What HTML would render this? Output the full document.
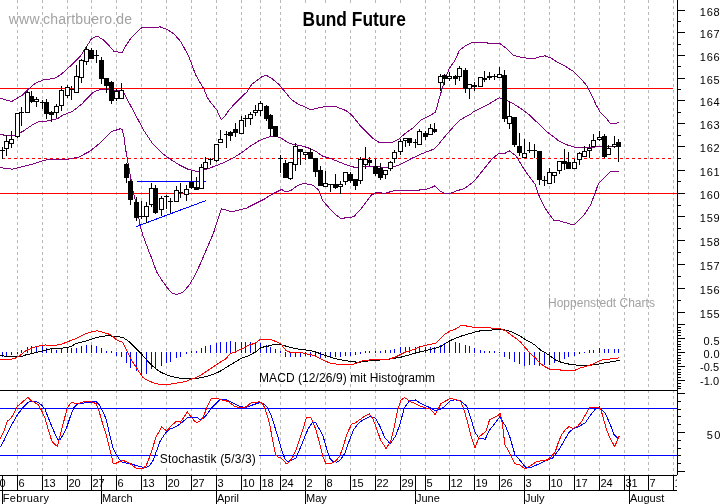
<!DOCTYPE html>
<html><head><meta charset="utf-8"><title>Bund Future</title>
<style>
html,body{margin:0;padding:0;background:#fff;}
body{width:723px;height:504px;overflow:hidden;}
svg{display:block;}
text{font-family:"Liberation Sans",Arial,sans-serif;}
.ax{font-size:11px;fill:#000;}
.lbl{font-size:12px;fill:#000;}
.title{font-size:19.3px;font-weight:bold;fill:#000;}
.wm{font-size:14px;fill:#a2a2a2;}
.hp{font-size:12px;fill:#a2a2a2;}
line,rect,polyline{shape-rendering:crispEdges;}
</style></head>
<body>
<svg width="723" height="504" viewBox="0 0 723 504">
<defs><clipPath id="axclip"><rect x="0" y="475" width="677" height="29"/></clipPath></defs>
<rect x="0" y="0" width="723" height="504" fill="#fff"/>
<line x1="17.5" y1="0" x2="17.5" y2="475" stroke="#b8b8b8" stroke-dasharray="3 3"/>
<line x1="42.5" y1="0" x2="42.5" y2="475" stroke="#b8b8b8" stroke-dasharray="3 3"/>
<line x1="67.5" y1="0" x2="67.5" y2="475" stroke="#b8b8b8" stroke-dasharray="3 3"/>
<line x1="91.5" y1="0" x2="91.5" y2="475" stroke="#b8b8b8" stroke-dasharray="3 3"/>
<line x1="116.5" y1="0" x2="116.5" y2="475" stroke="#b8b8b8" stroke-dasharray="3 3"/>
<line x1="141.5" y1="0" x2="141.5" y2="475" stroke="#b8b8b8" stroke-dasharray="3 3"/>
<line x1="166.5" y1="0" x2="166.5" y2="475" stroke="#b8b8b8" stroke-dasharray="3 3"/>
<line x1="191.5" y1="0" x2="191.5" y2="475" stroke="#b8b8b8" stroke-dasharray="3 3"/>
<line x1="216.5" y1="0" x2="216.5" y2="475" stroke="#b8b8b8" stroke-dasharray="3 3"/>
<line x1="241.5" y1="0" x2="241.5" y2="475" stroke="#b8b8b8" stroke-dasharray="3 3"/>
<line x1="260.5" y1="0" x2="260.5" y2="475" stroke="#b8b8b8" stroke-dasharray="3 3"/>
<line x1="280.5" y1="0" x2="280.5" y2="475" stroke="#b8b8b8" stroke-dasharray="3 3"/>
<line x1="305.5" y1="0" x2="305.5" y2="475" stroke="#b8b8b8" stroke-dasharray="3 3"/>
<line x1="325.5" y1="0" x2="325.5" y2="475" stroke="#b8b8b8" stroke-dasharray="3 3"/>
<line x1="350.5" y1="0" x2="350.5" y2="475" stroke="#b8b8b8" stroke-dasharray="3 3"/>
<line x1="375.5" y1="0" x2="375.5" y2="475" stroke="#b8b8b8" stroke-dasharray="3 3"/>
<line x1="400.5" y1="0" x2="400.5" y2="475" stroke="#b8b8b8" stroke-dasharray="3 3"/>
<line x1="425.5" y1="0" x2="425.5" y2="475" stroke="#b8b8b8" stroke-dasharray="3 3"/>
<line x1="449.5" y1="0" x2="449.5" y2="475" stroke="#b8b8b8" stroke-dasharray="3 3"/>
<line x1="474.5" y1="0" x2="474.5" y2="475" stroke="#b8b8b8" stroke-dasharray="3 3"/>
<line x1="499.5" y1="0" x2="499.5" y2="475" stroke="#b8b8b8" stroke-dasharray="3 3"/>
<line x1="524.5" y1="0" x2="524.5" y2="475" stroke="#b8b8b8" stroke-dasharray="3 3"/>
<line x1="549.5" y1="0" x2="549.5" y2="475" stroke="#b8b8b8" stroke-dasharray="3 3"/>
<line x1="574.5" y1="0" x2="574.5" y2="475" stroke="#b8b8b8" stroke-dasharray="3 3"/>
<line x1="599.5" y1="0" x2="599.5" y2="475" stroke="#b8b8b8" stroke-dasharray="3 3"/>
<line x1="624.5" y1="0" x2="624.5" y2="475" stroke="#b8b8b8" stroke-dasharray="3 3"/>
<line x1="648.5" y1="0" x2="648.5" y2="475" stroke="#b8b8b8" stroke-dasharray="3 3"/>
<line x1="673.5" y1="0" x2="673.5" y2="475" stroke="#b8b8b8" stroke-dasharray="3 3"/>
<line x1="0" y1="88.5" x2="673" y2="88.5" stroke="#ff0000"/>
<line x1="0" y1="193.5" x2="677" y2="193.5" stroke="#ff0000"/>
<line x1="2" y1="158.5" x2="673" y2="158.5" stroke="#ff0000" stroke-dasharray="3 3"/>
<polyline points="-1.5,98.3 0.5,98.3 11.6,101.6 22.7,94.9 29.4,88.3 36.1,82.7 44.9,79.4 53.8,78.7 60.5,74.9 71.6,64.9 80.5,56.1 86.1,47.2 91.6,38.7 97.2,36.1 102.7,39.4 109.4,46.1 113.8,51.2 122.3,52.7 124.9,47.2 131.6,37.2 138.3,30.5 142.7,27.2 160.5,27.0 167.2,29.4 173.8,33.8 180.5,41.3 183.8,47.2 188.8,56.3 192.2,65.5 195.5,74.7 198.8,80.5 202.2,86.3 203.8,88.8 207.2,97.2 210.5,102.2 213.8,106.3 217.2,110.5 218.8,114.7 221.3,119.7 224.7,116.3 228.8,110.5 233.8,104.7 240.5,98.0 247.2,91.6 251.6,84.5 258.3,79.4 262.7,76.1 267.2,75.8 271.6,78.3 278.3,83.8 284.9,91.6 290.5,98.8 297.4,103.7 305.8,107.4 311.3,109.9 316.9,108.3 323.8,106.9 336.5,106.9 346.1,110.6 351.5,114.8 359.9,125.2 368.3,133.6 373.8,139.1 379.4,142.6 390.5,143.0 391.6,142.7 398.3,139.4 400.5,137.3 407.4,131.8 414.4,126.9 421.3,119.9 428.3,116.5 435.2,112.3 436.6,108.8 438.7,100.5 441.6,90.5 444.9,79.4 449.4,68.3 454.9,60.5 459.4,50.5 464.9,46.1 471.6,42.7 478.3,42.1 489.4,43.2 499.4,43.2 504.9,47.2 513.8,55.6 523.8,57.8 533.8,58.7 540.5,56.5 544.9,55.8 550.5,57.8 558.3,62.7 564.9,66.1 573.8,71.6 580.5,78.3 587.2,86.1 591.6,94.9 596.1,104.9 600.5,112.7 607.2,119.4 610.5,123.8 616.1,123.2 619.4,122.7" fill="none" stroke="#800080" />
<polyline points="-1.5,134.0 0.5,134.0 3.5,135.0 15.5,135.0 19.1,133.2 23.5,131.0 27.9,127.9 33.1,124.4 37.0,122.3 41.8,121.0 47.0,121.0 52.2,119.9 57.4,118.8 62.7,115.3 66.5,113.7 71.7,111.8 76.1,108.6 82.2,103.6 87.4,98.0 92.7,92.7 97.0,90.3 100.5,89.7 105.0,89.2 108.5,89.7 112.7,90.3 117.1,90.8 121.5,90.8 124.1,93.6 133.8,111.6 143.8,130.5 152.7,143.8 161.6,152.7 170.5,159.4 179.4,164.9 188.3,169.4 197.2,171.6 206.1,169.4 214.9,166.1 223.8,162.7 232.7,158.3 241.6,152.7 250.5,146.1 259.4,140.5 268.3,137.2 274.9,136.1 281.6,138.3 287.2,142.3 293.8,144.5 302.7,146.1 309.4,148.3 316.1,151.6 322.7,156.1 331.6,158.9 344.9,164.3 356.1,167.8 367.2,166.1 378.3,166.5 389.4,168.3 400.5,164.4 410.9,158.8 421.3,154.0 433.8,149.1 438.7,144.3 443.6,138.0 448.5,132.4 453.3,126.9 460.2,119.9 467.2,115.8 470.5,114.4 473.8,111.6 487.2,104.9 499.4,97.8 502.7,98.7 511.6,102.7 520.5,108.3 529.4,114.9 538.3,123.5 547.2,132.0 558.3,140.5 567.2,144.9 576.1,147.6 587.2,147.8 596.1,146.9 609.4,146.7 619.4,146.3" fill="none" stroke="#800080" />
<polyline points="-1.5,167.8 0.5,167.8 10.5,168.5 11.6,169.7 14.5,168.5 22.7,166.7 33.8,163.8 44.9,160.1 56.1,159.4 67.2,159.4 78.3,157.2 89.4,151.6 100.5,142.7 111.6,131.6 120.5,128.7 122.0,129.5 123.7,134.8 125.6,149.1 127.3,158.6 129.2,169.3 131.1,180.0 133.0,191.0 134.9,199.0 137.4,209.2 138.7,216.8 139.9,224.4 141.2,229.5 143.1,235.9 145.0,240.9 146.9,246.0 148.8,251.1 151.4,257.5 156.6,271.8 161.7,280.0 166.9,287.2 171.6,293.0 177.2,294.5 182.4,292.4 188.5,286.2 194.7,275.9 200.9,262.5 207.1,248.0 213.3,233.6 217.4,221.2 221.5,208.9 223.6,209.3 231.8,212.0 237.2,210.5 246.1,208.3 254.9,203.8 263.8,199.4 272.7,193.8 281.6,189.5 285.5,191.8 290.5,190.7 297.5,185.7 302.5,183.8 308.5,184.1 313.5,185.5 318.5,190.0 322.7,200.5 329.4,208.3 336.1,214.9 340.5,218.3 347.2,217.8 353.8,216.7 360.5,209.4 367.2,200.5 371.6,194.9 376.1,192.7 384.9,193.2 393.8,190.9 400.5,190.1 411.6,190.5 422.7,189.8 429.4,188.5 434.9,185.8 439.4,190.5 443.8,193.2 449.4,193.8 456.1,191.1 464.9,188.3 473.8,181.6 482.7,170.5 491.6,159.4 498.3,153.8 505.5,153.0 509.4,150.9 516.1,156.0 524.9,170.5 530.5,178.3 534.9,183.8 538.3,193.8 542.7,203.8 547.2,211.6 553.8,220.1 560.5,221.1 567.2,223.2 573.8,224.9 578.3,220.9 584.9,213.8 590.5,204.9 594.9,193.8 598.3,183.8 604.9,177.2 610.5,171.8 614.9,171.2 619.4,171.6" fill="none" stroke="#800080" />
<line x1="137" y1="181.5" x2="206" y2="181.5" stroke="#0000ff"/>
<line x1="136.5" y1="226.5" x2="206" y2="200.5" stroke="#0000ff"/>
<rect x="2" y="147" width="1" height="12" fill="#000"/>
<rect x="0" y="150" width="5" height="1" fill="#000"/>
<rect x="6" y="135" width="1" height="21" fill="#000"/>
<rect x="4.5" y="141.5" width="4" height="7" fill="#fff" stroke="#000"/>
<rect x="11" y="131" width="1" height="17" fill="#000"/>
<rect x="9.5" y="139.5" width="4" height="4" fill="#fff" stroke="#000"/>
<rect x="17" y="113" width="1" height="25" fill="#000"/>
<rect x="15.5" y="113.5" width="4" height="23" fill="#fff" stroke="#000"/>
<rect x="21" y="107" width="1" height="19" fill="#000"/>
<rect x="19" y="112" width="5" height="1" fill="#000"/>
<rect x="27" y="91" width="1" height="22" fill="#000"/>
<rect x="25.5" y="92.5" width="4" height="20" fill="#fff" stroke="#000"/>
<rect x="31" y="91" width="1" height="12" fill="#000"/>
<rect x="29" y="96" width="5" height="6" fill="#000"/>
<rect x="36" y="97" width="1" height="10" fill="#000"/>
<rect x="34.5" y="99.5" width="4" height="2" fill="#fff" stroke="#000"/>
<rect x="42" y="100" width="1" height="9" fill="#000"/>
<rect x="40" y="102" width="5" height="1" fill="#000"/>
<rect x="46" y="99" width="1" height="20" fill="#000"/>
<rect x="44" y="102" width="5" height="12" fill="#000"/>
<rect x="51" y="111" width="1" height="11" fill="#000"/>
<rect x="49" y="112" width="5" height="3" fill="#000"/>
<rect x="56" y="104" width="1" height="14" fill="#000"/>
<rect x="54.5" y="106.5" width="4" height="6" fill="#fff" stroke="#000"/>
<rect x="61" y="86" width="1" height="25" fill="#000"/>
<rect x="59.5" y="90.5" width="4" height="15" fill="#fff" stroke="#000"/>
<rect x="67" y="85" width="1" height="13" fill="#000"/>
<rect x="65.5" y="87.5" width="4" height="8" fill="#fff" stroke="#000"/>
<rect x="71" y="86" width="1" height="14" fill="#000"/>
<rect x="69" y="89" width="5" height="1" fill="#000"/>
<rect x="76" y="65" width="1" height="28" fill="#000"/>
<rect x="74.5" y="76.5" width="4" height="16" fill="#fff" stroke="#000"/>
<rect x="81" y="59" width="1" height="24" fill="#000"/>
<rect x="79.5" y="60.5" width="4" height="17" fill="#fff" stroke="#000"/>
<rect x="86" y="46" width="1" height="19" fill="#000"/>
<rect x="84.5" y="49.5" width="4" height="12" fill="#fff" stroke="#000"/>
<rect x="91" y="48" width="1" height="11" fill="#000"/>
<rect x="89" y="50" width="5" height="9" fill="#000"/>
<rect x="96" y="50" width="1" height="13" fill="#000"/>
<rect x="94" y="55" width="5" height="1" fill="#000"/>
<rect x="101" y="57" width="1" height="27" fill="#000"/>
<rect x="99" y="60" width="5" height="19" fill="#000"/>
<rect x="106" y="78" width="1" height="15" fill="#000"/>
<rect x="104" y="78" width="5" height="8" fill="#000"/>
<rect x="111" y="81" width="1" height="23" fill="#000"/>
<rect x="109" y="82" width="5" height="19" fill="#000"/>
<rect x="116" y="89" width="1" height="12" fill="#000"/>
<rect x="114.5" y="91.5" width="4" height="7" fill="#fff" stroke="#000"/>
<rect x="121" y="83" width="1" height="16" fill="#000"/>
<rect x="119.5" y="90.5" width="4" height="8" fill="#fff" stroke="#000"/>
<rect x="126" y="163" width="1" height="20" fill="#000"/>
<rect x="124" y="164" width="5" height="14" fill="#000"/>
<rect x="130" y="180" width="1" height="25" fill="#000"/>
<rect x="128" y="181" width="5" height="19" fill="#000"/>
<rect x="136" y="197" width="1" height="24" fill="#000"/>
<rect x="134" y="202" width="5" height="16" fill="#000"/>
<rect x="141" y="201" width="1" height="18" fill="#000"/>
<rect x="139" y="216" width="5" height="1" fill="#000"/>
<rect x="146" y="202" width="1" height="21" fill="#000"/>
<rect x="144.5" y="206.5" width="4" height="10" fill="#fff" stroke="#000"/>
<rect x="151" y="183" width="1" height="24" fill="#000"/>
<rect x="149.5" y="188.5" width="4" height="16" fill="#fff" stroke="#000"/>
<rect x="155" y="185" width="1" height="29" fill="#000"/>
<rect x="153" y="188" width="5" height="25" fill="#000"/>
<rect x="161" y="196" width="1" height="20" fill="#000"/>
<rect x="159.5" y="198.5" width="4" height="11" fill="#fff" stroke="#000"/>
<rect x="166" y="195" width="1" height="14" fill="#000"/>
<rect x="164" y="196" width="5" height="1" fill="#000"/>
<rect x="170" y="198" width="1" height="15" fill="#000"/>
<rect x="168" y="201" width="5" height="1" fill="#000"/>
<rect x="176" y="186" width="1" height="16" fill="#000"/>
<rect x="174.5" y="190.5" width="4" height="11" fill="#fff" stroke="#000"/>
<rect x="180" y="183" width="1" height="15" fill="#000"/>
<rect x="178" y="192" width="5" height="1" fill="#000"/>
<rect x="186" y="185" width="1" height="16" fill="#000"/>
<rect x="184.5" y="189.5" width="4" height="5" fill="#fff" stroke="#000"/>
<rect x="191" y="171" width="1" height="18" fill="#000"/>
<rect x="189" y="182" width="5" height="6" fill="#000"/>
<rect x="196" y="177" width="1" height="13" fill="#000"/>
<rect x="194" y="187" width="5" height="3" fill="#000"/>
<rect x="201" y="164" width="1" height="25" fill="#000"/>
<rect x="199.5" y="167.5" width="4" height="21" fill="#fff" stroke="#000"/>
<rect x="205" y="157" width="1" height="12" fill="#000"/>
<rect x="203.5" y="162.5" width="4" height="6" fill="#fff" stroke="#000"/>
<rect x="210" y="158" width="1" height="7" fill="#000"/>
<rect x="208" y="159" width="5" height="1" fill="#000"/>
<rect x="216" y="144" width="1" height="18" fill="#000"/>
<rect x="214.5" y="144.5" width="4" height="16" fill="#fff" stroke="#000"/>
<rect x="220" y="130" width="1" height="13" fill="#000"/>
<rect x="218.5" y="139.5" width="4" height="3" fill="#fff" stroke="#000"/>
<rect x="226" y="131" width="1" height="17" fill="#000"/>
<rect x="224" y="134" width="5" height="1" fill="#000"/>
<rect x="230" y="131" width="1" height="10" fill="#000"/>
<rect x="228" y="132" width="5" height="4" fill="#000"/>
<rect x="235" y="123" width="1" height="14" fill="#000"/>
<rect x="233" y="129" width="5" height="4" fill="#000"/>
<rect x="241" y="116" width="1" height="18" fill="#000"/>
<rect x="239.5" y="120.5" width="4" height="13" fill="#fff" stroke="#000"/>
<rect x="245" y="115" width="1" height="12" fill="#000"/>
<rect x="243" y="118" width="5" height="1" fill="#000"/>
<rect x="250" y="112" width="1" height="13" fill="#000"/>
<rect x="248.5" y="114.5" width="4" height="4" fill="#fff" stroke="#000"/>
<rect x="255" y="105" width="1" height="11" fill="#000"/>
<rect x="253.5" y="110.5" width="4" height="2" fill="#fff" stroke="#000"/>
<rect x="260" y="101" width="1" height="15" fill="#000"/>
<rect x="258.5" y="103.5" width="4" height="7" fill="#fff" stroke="#000"/>
<rect x="266" y="105" width="1" height="16" fill="#000"/>
<rect x="264" y="106" width="5" height="13" fill="#000"/>
<rect x="270" y="114" width="1" height="22" fill="#000"/>
<rect x="268" y="115" width="5" height="14" fill="#000"/>
<rect x="275" y="126" width="1" height="11" fill="#000"/>
<rect x="273" y="126" width="5" height="11" fill="#000"/>
<rect x="280" y="155" width="1" height="18" fill="#000"/>
<rect x="278" y="158" width="5" height="1" fill="#000"/>
<rect x="285" y="160" width="1" height="18" fill="#000"/>
<rect x="283" y="163" width="5" height="15" fill="#000"/>
<rect x="290" y="162" width="1" height="18" fill="#000"/>
<rect x="288.5" y="162.5" width="4" height="16" fill="#fff" stroke="#000"/>
<rect x="295" y="143" width="1" height="28" fill="#000"/>
<rect x="293.5" y="146.5" width="4" height="18" fill="#fff" stroke="#000"/>
<rect x="300" y="149" width="1" height="16" fill="#000"/>
<rect x="298" y="149" width="5" height="3" fill="#000"/>
<rect x="305" y="152" width="1" height="8" fill="#000"/>
<rect x="303.5" y="152.5" width="4" height="2" fill="#fff" stroke="#000"/>
<rect x="310" y="148" width="1" height="11" fill="#000"/>
<rect x="308" y="152" width="5" height="7" fill="#000"/>
<rect x="315" y="158" width="1" height="19" fill="#000"/>
<rect x="313" y="158" width="5" height="14" fill="#000"/>
<rect x="320" y="166" width="1" height="20" fill="#000"/>
<rect x="318" y="170" width="5" height="16" fill="#000"/>
<rect x="325" y="171" width="1" height="16" fill="#000"/>
<rect x="323.5" y="183.5" width="4" height="3" fill="#fff" stroke="#000"/>
<rect x="330" y="184" width="1" height="8" fill="#000"/>
<rect x="328" y="184" width="5" height="1" fill="#000"/>
<rect x="335" y="174" width="1" height="15" fill="#000"/>
<rect x="333" y="184" width="5" height="4" fill="#000"/>
<rect x="340" y="181" width="1" height="13" fill="#000"/>
<rect x="338.5" y="184.5" width="4" height="2" fill="#fff" stroke="#000"/>
<rect x="345" y="172" width="1" height="13" fill="#000"/>
<rect x="343.5" y="172.5" width="4" height="9" fill="#fff" stroke="#000"/>
<rect x="350" y="172" width="1" height="11" fill="#000"/>
<rect x="348" y="174" width="5" height="7" fill="#000"/>
<rect x="355" y="179" width="1" height="11" fill="#000"/>
<rect x="353" y="179" width="5" height="7" fill="#000"/>
<rect x="360" y="157" width="1" height="27" fill="#000"/>
<rect x="358.5" y="159.5" width="4" height="21" fill="#fff" stroke="#000"/>
<rect x="365" y="147" width="1" height="22" fill="#000"/>
<rect x="363.5" y="159.5" width="4" height="5" fill="#fff" stroke="#000"/>
<rect x="369" y="157" width="1" height="9" fill="#000"/>
<rect x="367" y="160" width="5" height="3" fill="#000"/>
<rect x="375" y="159" width="1" height="17" fill="#000"/>
<rect x="373" y="166" width="5" height="8" fill="#000"/>
<rect x="380" y="163" width="1" height="17" fill="#000"/>
<rect x="378" y="168" width="5" height="10" fill="#000"/>
<rect x="385" y="170" width="1" height="9" fill="#000"/>
<rect x="383.5" y="170.5" width="4" height="4" fill="#fff" stroke="#000"/>
<rect x="390" y="161" width="1" height="10" fill="#000"/>
<rect x="388.5" y="162.5" width="4" height="6" fill="#fff" stroke="#000"/>
<rect x="394" y="150" width="1" height="13" fill="#000"/>
<rect x="392.5" y="152.5" width="4" height="6" fill="#fff" stroke="#000"/>
<rect x="400" y="139" width="1" height="16" fill="#000"/>
<rect x="398.5" y="141.5" width="4" height="10" fill="#fff" stroke="#000"/>
<rect x="405" y="138" width="1" height="9" fill="#000"/>
<rect x="403.5" y="138.5" width="4" height="2" fill="#fff" stroke="#000"/>
<rect x="409" y="138" width="1" height="8" fill="#000"/>
<rect x="407" y="138" width="5" height="5" fill="#000"/>
<rect x="415" y="139" width="1" height="9" fill="#000"/>
<rect x="413" y="142" width="5" height="1" fill="#000"/>
<rect x="419" y="129" width="1" height="16" fill="#000"/>
<rect x="417.5" y="131.5" width="4" height="13" fill="#fff" stroke="#000"/>
<rect x="425" y="131" width="1" height="9" fill="#000"/>
<rect x="423" y="133" width="5" height="4" fill="#000"/>
<rect x="430" y="124" width="1" height="11" fill="#000"/>
<rect x="428.5" y="128.5" width="4" height="6" fill="#fff" stroke="#000"/>
<rect x="434" y="123" width="1" height="10" fill="#000"/>
<rect x="432" y="129" width="5" height="3" fill="#000"/>
<rect x="440" y="74" width="1" height="17" fill="#000"/>
<rect x="438.5" y="76.5" width="4" height="6" fill="#fff" stroke="#000"/>
<rect x="444" y="74" width="1" height="11" fill="#000"/>
<rect x="442" y="75" width="5" height="4" fill="#000"/>
<rect x="449" y="72" width="1" height="9" fill="#000"/>
<rect x="447.5" y="76.5" width="4" height="2" fill="#fff" stroke="#000"/>
<rect x="455" y="75" width="1" height="10" fill="#000"/>
<rect x="453" y="76" width="5" height="3" fill="#000"/>
<rect x="459" y="66" width="1" height="15" fill="#000"/>
<rect x="457.5" y="68.5" width="4" height="8" fill="#fff" stroke="#000"/>
<rect x="465" y="68" width="1" height="25" fill="#000"/>
<rect x="463" y="70" width="5" height="19" fill="#000"/>
<rect x="469" y="84" width="1" height="15" fill="#000"/>
<rect x="467.5" y="84.5" width="4" height="4" fill="#fff" stroke="#000"/>
<rect x="474" y="82" width="1" height="9" fill="#000"/>
<rect x="472" y="85" width="5" height="2" fill="#000"/>
<rect x="480" y="77" width="1" height="10" fill="#000"/>
<rect x="478.5" y="77.5" width="4" height="9" fill="#fff" stroke="#000"/>
<rect x="484" y="71" width="1" height="11" fill="#000"/>
<rect x="482" y="78" width="5" height="2" fill="#000"/>
<rect x="489" y="72" width="1" height="8" fill="#000"/>
<rect x="487" y="76" width="5" height="2" fill="#000"/>
<rect x="494" y="74" width="1" height="6" fill="#000"/>
<rect x="492" y="76" width="5" height="1" fill="#000"/>
<rect x="499" y="67" width="1" height="11" fill="#000"/>
<rect x="497.5" y="74.5" width="4" height="3" fill="#fff" stroke="#000"/>
<rect x="504" y="70" width="1" height="52" fill="#000"/>
<rect x="502" y="75" width="5" height="44" fill="#000"/>
<rect x="509" y="101" width="1" height="28" fill="#000"/>
<rect x="507.5" y="116.5" width="4" height="7" fill="#fff" stroke="#000"/>
<rect x="514" y="117" width="1" height="30" fill="#000"/>
<rect x="512" y="117" width="5" height="28" fill="#000"/>
<rect x="519" y="133" width="1" height="23" fill="#000"/>
<rect x="517" y="146" width="5" height="7" fill="#000"/>
<rect x="524" y="139" width="1" height="19" fill="#000"/>
<rect x="522.5" y="153.5" width="4" height="4" fill="#fff" stroke="#000"/>
<rect x="529" y="142" width="1" height="11" fill="#000"/>
<rect x="527" y="150" width="5" height="1" fill="#000"/>
<rect x="534" y="144" width="1" height="14" fill="#000"/>
<rect x="532" y="150" width="5" height="1" fill="#000"/>
<rect x="539" y="151" width="1" height="34" fill="#000"/>
<rect x="537" y="151" width="5" height="29" fill="#000"/>
<rect x="544" y="176" width="1" height="10" fill="#000"/>
<rect x="542" y="180" width="5" height="1" fill="#000"/>
<rect x="549" y="168" width="1" height="16" fill="#000"/>
<rect x="547.5" y="172.5" width="4" height="11" fill="#fff" stroke="#000"/>
<rect x="554" y="172" width="1" height="11" fill="#000"/>
<rect x="552.5" y="172.5" width="4" height="3" fill="#fff" stroke="#000"/>
<rect x="559" y="161" width="1" height="13" fill="#000"/>
<rect x="557.5" y="161.5" width="4" height="9" fill="#fff" stroke="#000"/>
<rect x="564" y="149" width="1" height="21" fill="#000"/>
<rect x="562" y="161" width="5" height="3" fill="#000"/>
<rect x="568" y="152" width="1" height="17" fill="#000"/>
<rect x="566" y="162" width="5" height="7" fill="#000"/>
<rect x="574" y="159" width="1" height="10" fill="#000"/>
<rect x="572.5" y="162.5" width="4" height="6" fill="#fff" stroke="#000"/>
<rect x="579" y="152" width="1" height="13" fill="#000"/>
<rect x="577.5" y="153.5" width="4" height="6" fill="#fff" stroke="#000"/>
<rect x="584" y="146" width="1" height="11" fill="#000"/>
<rect x="582.5" y="151.5" width="4" height="5" fill="#fff" stroke="#000"/>
<rect x="589" y="144" width="1" height="14" fill="#000"/>
<rect x="587.5" y="148.5" width="4" height="2" fill="#fff" stroke="#000"/>
<rect x="593" y="134" width="1" height="13" fill="#000"/>
<rect x="591.5" y="140.5" width="4" height="6" fill="#fff" stroke="#000"/>
<rect x="599" y="131" width="1" height="10" fill="#000"/>
<rect x="597.5" y="137.5" width="4" height="2" fill="#fff" stroke="#000"/>
<rect x="604" y="134" width="1" height="24" fill="#000"/>
<rect x="602" y="136" width="5" height="21" fill="#000"/>
<rect x="608" y="145" width="1" height="10" fill="#000"/>
<rect x="606.5" y="148.5" width="4" height="6" fill="#fff" stroke="#000"/>
<rect x="614" y="136" width="1" height="12" fill="#000"/>
<rect x="612.5" y="144.5" width="4" height="2" fill="#fff" stroke="#000"/>
<rect x="618" y="139" width="1" height="23" fill="#000"/>
<rect x="616" y="142" width="5" height="5" fill="#000"/>
<rect x="2" y="352" width="1" height="5" fill="#0000ff"/>
<rect x="6" y="352" width="1" height="5" fill="#0000ff"/>
<rect x="11" y="352" width="1" height="3" fill="#0000ff"/>
<rect x="17" y="352" width="1" height="2" fill="#0000ff"/>
<rect x="21" y="350" width="1" height="3" fill="#0000ff"/>
<rect x="27" y="347" width="1" height="6" fill="#0000ff"/>
<rect x="31" y="346" width="1" height="7" fill="#0000ff"/>
<rect x="36" y="346" width="1" height="7" fill="#0000ff"/>
<rect x="42" y="346" width="1" height="7" fill="#0000ff"/>
<rect x="46" y="348" width="1" height="5" fill="#0000ff"/>
<rect x="51" y="349" width="1" height="4" fill="#0000ff"/>
<rect x="56" y="350" width="1" height="3" fill="#0000ff"/>
<rect x="61" y="349" width="1" height="4" fill="#0000ff"/>
<rect x="67" y="348" width="1" height="5" fill="#0000ff"/>
<rect x="71" y="348" width="1" height="5" fill="#0000ff"/>
<rect x="76" y="348" width="1" height="5" fill="#0000ff"/>
<rect x="81" y="346" width="1" height="7" fill="#0000ff"/>
<rect x="86" y="345" width="1" height="8" fill="#0000ff"/>
<rect x="91" y="345" width="1" height="8" fill="#0000ff"/>
<rect x="96" y="346" width="1" height="7" fill="#0000ff"/>
<rect x="101" y="348" width="1" height="5" fill="#0000ff"/>
<rect x="106" y="351" width="1" height="2" fill="#0000ff"/>
<rect x="111" y="351" width="1" height="2" fill="#0000ff"/>
<rect x="116" y="352" width="1" height="4" fill="#0000ff"/>
<rect x="121" y="352" width="1" height="5" fill="#0000ff"/>
<rect x="126" y="352" width="1" height="11" fill="#0000ff"/>
<rect x="130" y="352" width="1" height="16" fill="#0000ff"/>
<rect x="136" y="352" width="1" height="19" fill="#0000ff"/>
<rect x="141" y="352" width="1" height="23" fill="#0000ff"/>
<rect x="146" y="352" width="1" height="22" fill="#0000ff"/>
<rect x="151" y="352" width="1" height="17" fill="#0000ff"/>
<rect x="155" y="352" width="1" height="16" fill="#0000ff"/>
<rect x="161" y="352" width="1" height="14" fill="#0000ff"/>
<rect x="166" y="352" width="1" height="11" fill="#0000ff"/>
<rect x="170" y="352" width="1" height="10" fill="#0000ff"/>
<rect x="176" y="352" width="1" height="6" fill="#0000ff"/>
<rect x="180" y="352" width="1" height="5" fill="#0000ff"/>
<rect x="186" y="352" width="1" height="2" fill="#0000ff"/>
<rect x="191" y="351" width="1" height="2" fill="#0000ff"/>
<rect x="196" y="351" width="1" height="2" fill="#0000ff"/>
<rect x="201" y="348" width="1" height="5" fill="#0000ff"/>
<rect x="205" y="346" width="1" height="7" fill="#0000ff"/>
<rect x="210" y="345" width="1" height="8" fill="#0000ff"/>
<rect x="216" y="343" width="1" height="10" fill="#0000ff"/>
<rect x="220" y="342" width="1" height="11" fill="#0000ff"/>
<rect x="226" y="342" width="1" height="11" fill="#0000ff"/>
<rect x="230" y="341" width="1" height="12" fill="#0000ff"/>
<rect x="235" y="342" width="1" height="11" fill="#0000ff"/>
<rect x="241" y="342" width="1" height="11" fill="#0000ff"/>
<rect x="245" y="342" width="1" height="11" fill="#0000ff"/>
<rect x="250" y="342" width="1" height="11" fill="#0000ff"/>
<rect x="255" y="342" width="1" height="11" fill="#0000ff"/>
<rect x="260" y="343" width="1" height="10" fill="#0000ff"/>
<rect x="266" y="345" width="1" height="8" fill="#0000ff"/>
<rect x="270" y="347" width="1" height="6" fill="#0000ff"/>
<rect x="275" y="349" width="1" height="4" fill="#0000ff"/>
<rect x="280" y="351" width="1" height="2" fill="#0000ff"/>
<rect x="285" y="352" width="1" height="5" fill="#0000ff"/>
<rect x="290" y="352" width="1" height="5" fill="#0000ff"/>
<rect x="295" y="352" width="1" height="5" fill="#0000ff"/>
<rect x="300" y="352" width="1" height="5" fill="#0000ff"/>
<rect x="305" y="352" width="1" height="4" fill="#0000ff"/>
<rect x="310" y="352" width="1" height="5" fill="#0000ff"/>
<rect x="315" y="352" width="1" height="5" fill="#0000ff"/>
<rect x="320" y="352" width="1" height="6" fill="#0000ff"/>
<rect x="325" y="352" width="1" height="6" fill="#0000ff"/>
<rect x="330" y="352" width="1" height="6" fill="#0000ff"/>
<rect x="335" y="352" width="1" height="5" fill="#0000ff"/>
<rect x="340" y="352" width="1" height="5" fill="#0000ff"/>
<rect x="345" y="352" width="1" height="4" fill="#0000ff"/>
<rect x="350" y="352" width="1" height="4" fill="#0000ff"/>
<rect x="355" y="352" width="1" height="3" fill="#0000ff"/>
<rect x="360" y="352" width="1" height="2" fill="#0000ff"/>
<rect x="365" y="351" width="1" height="2" fill="#0000ff"/>
<rect x="369" y="351" width="1" height="2" fill="#0000ff"/>
<rect x="375" y="351" width="1" height="2" fill="#0000ff"/>
<rect x="380" y="351" width="1" height="2" fill="#0000ff"/>
<rect x="385" y="350" width="1" height="3" fill="#0000ff"/>
<rect x="390" y="350" width="1" height="3" fill="#0000ff"/>
<rect x="394" y="349" width="1" height="4" fill="#0000ff"/>
<rect x="400" y="347" width="1" height="6" fill="#0000ff"/>
<rect x="405" y="347" width="1" height="6" fill="#0000ff"/>
<rect x="409" y="347" width="1" height="6" fill="#0000ff"/>
<rect x="415" y="347" width="1" height="6" fill="#0000ff"/>
<rect x="419" y="346" width="1" height="7" fill="#0000ff"/>
<rect x="425" y="347" width="1" height="6" fill="#0000ff"/>
<rect x="430" y="347" width="1" height="6" fill="#0000ff"/>
<rect x="434" y="347" width="1" height="6" fill="#0000ff"/>
<rect x="440" y="345" width="1" height="8" fill="#0000ff"/>
<rect x="444" y="343" width="1" height="10" fill="#0000ff"/>
<rect x="449" y="342" width="1" height="11" fill="#0000ff"/>
<rect x="455" y="342" width="1" height="11" fill="#0000ff"/>
<rect x="459" y="343" width="1" height="10" fill="#0000ff"/>
<rect x="465" y="345" width="1" height="8" fill="#0000ff"/>
<rect x="469" y="346" width="1" height="7" fill="#0000ff"/>
<rect x="474" y="348" width="1" height="5" fill="#0000ff"/>
<rect x="480" y="350" width="1" height="3" fill="#0000ff"/>
<rect x="484" y="351" width="1" height="2" fill="#0000ff"/>
<rect x="489" y="351" width="1" height="2" fill="#0000ff"/>
<rect x="494" y="351" width="1" height="2" fill="#0000ff"/>
<rect x="499" y="352" width="1" height="1" fill="#0000ff"/>
<rect x="504" y="352" width="1" height="5" fill="#0000ff"/>
<rect x="509" y="352" width="1" height="7" fill="#0000ff"/>
<rect x="514" y="352" width="1" height="10" fill="#0000ff"/>
<rect x="519" y="352" width="1" height="12" fill="#0000ff"/>
<rect x="524" y="352" width="1" height="14" fill="#0000ff"/>
<rect x="529" y="352" width="1" height="13" fill="#0000ff"/>
<rect x="534" y="352" width="1" height="13" fill="#0000ff"/>
<rect x="539" y="352" width="1" height="14" fill="#0000ff"/>
<rect x="544" y="352" width="1" height="13" fill="#0000ff"/>
<rect x="549" y="352" width="1" height="13" fill="#0000ff"/>
<rect x="554" y="352" width="1" height="11" fill="#0000ff"/>
<rect x="559" y="352" width="1" height="9" fill="#0000ff"/>
<rect x="564" y="352" width="1" height="7" fill="#0000ff"/>
<rect x="568" y="352" width="1" height="5" fill="#0000ff"/>
<rect x="574" y="352" width="1" height="4" fill="#0000ff"/>
<rect x="579" y="352" width="1" height="2" fill="#0000ff"/>
<rect x="584" y="352" width="1" height="1" fill="#0000ff"/>
<rect x="589" y="350" width="1" height="3" fill="#0000ff"/>
<rect x="593" y="350" width="1" height="3" fill="#0000ff"/>
<rect x="599" y="348" width="1" height="5" fill="#0000ff"/>
<rect x="604" y="349" width="1" height="4" fill="#0000ff"/>
<rect x="608" y="349" width="1" height="4" fill="#0000ff"/>
<rect x="614" y="349" width="1" height="4" fill="#0000ff"/>
<rect x="618" y="349" width="1" height="4" fill="#0000ff"/>
<polyline points="-1.5,355.7 0.5,355.7 10.5,356.5 20.5,356.9 25.5,355.0 30.5,353.8 35.5,352.7 40.5,351.5 45.5,350.1 50.5,348.8 60.5,348.4 70.5,346.8 75.5,343.7 85.5,341.2 95.5,337.9 100.5,336.6 105.5,335.9 110.5,335.9 115.5,336.6 120.5,337.1 123.5,337.9 127.5,340.4 130.5,342.9 135.5,347.9 140.5,352.9 145.5,358.7 150.5,364.0 155.5,368.6 160.5,372.0 165.5,374.4 170.5,376.1 175.5,377.3 180.5,378.3 187.5,378.9 195.5,378.6 200.5,377.8 210.5,375.3 215.5,373.3 220.5,371.1 230.5,364.7 232.0,363.9 237.5,360.6 242.0,358.1 246.4,356.7 250.8,354.5 255.8,351.7 260.8,347.9 264.1,346.8 268.5,346.0 271.9,344.9 276.3,344.5 281.8,344.9 286.2,346.2 292.9,347.9 298.4,349.0 302.5,349.5 306.5,350.1 310.5,350.7 315.5,352.0 325.5,355.4 335.5,358.7 345.5,360.7 355.5,362.0 360.5,362.0 370.5,360.7 380.5,360.0 390.5,359.0 400.5,357.3 410.5,354.5 420.5,351.5 425.5,350.7 430.5,349.5 440.5,346.7 450.5,340.4 460.5,336.3 470.5,333.4 475.5,331.8 480.5,330.8 490.5,330.1 500.5,329.6 505.5,330.1 510.5,331.3 515.5,333.8 520.5,336.3 525.5,339.6 530.5,342.1 535.5,345.5 540.5,350.0 545.5,352.9 550.5,356.2 555.5,360.0 560.5,362.0 565.5,363.3 570.5,364.5 575.5,365.0 580.5,365.6 585.5,365.6 590.5,365.3 595.5,364.5 600.5,363.7 605.5,362.8 610.5,362.0 615.5,361.2 619.5,360.0" fill="none" stroke="#000000" />
<polyline points="-1.5,359.4 0.5,359.4 10.5,359.4 15.5,358.0 20.5,355.0 25.5,350.9 30.5,348.8 35.5,346.7 40.5,345.7 45.5,344.9 50.5,345.9 60.5,344.6 70.5,340.6 75.5,338.8 85.5,333.8 93.5,331.3 97.5,330.8 103.5,332.5 110.5,334.6 114.5,337.9 117.5,340.7 122.5,342.1 125.5,347.9 128.5,353.7 131.5,360.3 135.5,366.1 138.5,371.1 142.5,376.9 146.5,379.9 150.5,381.6 155.5,383.6 160.5,384.4 165.5,384.4 172.5,383.9 178.5,382.7 185.5,381.6 190.5,379.3 195.5,377.8 200.5,375.3 205.5,372.0 210.5,368.6 215.5,365.3 220.5,362.0 225.5,359.0 230.5,353.6 235.5,351.7 240.5,349.5 245.5,347.3 248.5,345.1 252.5,344.0 256.5,342.3 260.8,339.0 268.0,339.0 273.0,340.4 277.4,342.3 281.3,344.0 282.9,346.8 286.2,350.6 289.5,352.0 298.4,352.0 302.7,352.9 306.5,354.0 310.5,354.5 315.5,356.2 320.5,358.7 325.5,361.2 330.5,363.3 340.5,364.5 350.5,364.5 355.5,363.7 360.5,361.2 365.5,360.3 375.5,359.5 385.5,359.5 390.5,358.7 395.5,357.0 400.5,354.5 405.5,352.0 410.5,350.4 415.5,348.7 420.5,346.7 425.5,345.5 430.5,344.1 435.5,343.7 440.5,338.8 445.5,333.8 450.5,330.8 455.5,329.1 460.5,325.8 465.5,325.8 470.5,326.8 475.5,327.5 490.5,328.0 500.5,328.8 505.5,330.8 510.5,334.6 515.5,337.9 520.5,342.1 525.5,347.9 530.5,353.7 535.5,358.0 540.5,363.8 545.5,367.0 550.5,369.5 560.5,370.0 575.5,370.0 580.5,367.8 585.5,366.6 590.5,365.0 595.5,362.8 600.5,360.3 605.5,359.5 610.5,359.0 615.5,358.3 619.5,357.8" fill="none" stroke="#ff0000" />
<line x1="0" y1="390.5" x2="677" y2="390.5" stroke="#000"/>
<line x1="0" y1="408.5" x2="677" y2="408.5" stroke="#0000ff"/>
<line x1="0" y1="455.5" x2="677" y2="455.5" stroke="#0000ff"/>
<polyline points="-1.5,446.8 0.5,446.8 3.9,440.8 7.3,433.2 10.7,426.3 14.2,420.4 17.6,414.4 21.0,410.1 24.4,405.9 27.8,402.8 31.2,401.1 34.6,401.1 38.0,402.4 41.4,405.0 44.9,408.9 48.3,417.8 51.7,426.3 55.1,434.0 57.5,439.1 60.5,439.1 63.6,434.0 67.1,426.3 70.5,416.1 73.9,407.6 77.3,404.2 80.7,403.3 85.8,402.8 90.9,402.1 96.1,401.6 99.5,405.0 102.9,411.8 106.3,419.5 109.7,434.9 113.1,448.5 115.5,452.8 118.9,458.8 122.3,462.5 125.7,463.0 129.2,463.0 132.6,464.2 136.0,465.6 139.4,466.4 142.8,467.3 146.2,467.6 149.6,465.6 153.0,460.5 156.5,451.1 159.9,441.7 163.3,436.2 166.7,431.5 170.1,428.9 173.5,427.7 176.9,426.3 180.3,423.8 183.7,420.9 187.2,417.8 190.6,417.0 194.0,417.0 197.4,417.8 200.8,419.9 204.2,417.5 207.6,413.5 211.1,408.4 214.5,405.0 217.9,401.6 221.3,399.0 224.7,399.4 228.1,400.4 230.5,401.6 235.6,404.2 240.7,406.7 245.9,407.6 251.0,405.5 256.1,403.8 260.4,402.4 264.6,404.5 268.0,408.4 271.5,416.1 274.9,427.2 278.3,438.3 281.7,450.2 285.1,459.6 287.7,461.3 291.1,460.5 296.2,457.9 299.6,449.4 303.9,439.1 308.1,428.9 312.4,422.6 315.8,422.9 319.2,428.9 322.7,434.9 326.1,446.8 329.5,457.9 332.9,461.3 336.3,462.2 339.7,460.5 343.1,456.2 345.5,451.9 348.9,441.7 354.0,428.9 359.2,422.6 364.3,419.2 370.2,416.4 375.4,418.1 379.6,425.5 384.7,437.4 390.2,443.7 395.8,435.7 400.1,423.8 404.4,407.6 409.5,400.7 415.5,399.9 420.6,403.3 426.6,406.2 430.8,407.9 435.1,410.6 439.4,409.6 444.5,406.7 449.6,401.1 454.7,399.9 459.8,400.4 460.5,401.1 466.5,405.9 470.7,417.8 475.0,432.3 479.3,438.6 485.2,439.1 489.5,430.1 494.6,423.8 499.7,417.0 505.7,426.3 510.0,437.4 515.1,455.3 520.2,460.5 525.3,467.0 532.2,467.0 539.0,463.9 545.8,460.8 552.7,457.9 558.6,450.2 564.6,440.0 569.7,431.5 574.8,428.0 579.3,426.3 585.2,422.9 590.4,415.2 595.5,408.9 599.4,407.1 604.9,412.7 610.0,423.8 614.3,435.2 619.4,439.1" fill="none" stroke="#0000ff" />
<polyline points="-1.5,438.3 0.5,438.3 3.9,431.5 7.3,421.2 10.7,418.7 14.2,412.7 17.6,405.9 21.0,403.3 24.4,400.4 27.8,397.0 31.2,400.7 34.6,402.4 38.0,404.5 41.4,410.1 44.9,417.8 48.3,429.7 51.7,440.8 55.1,444.8 57.5,446.5 60.2,434.9 63.6,422.1 67.1,408.4 70.5,403.3 72.5,402.1 75.6,403.8 79.0,403.3 82.4,402.1 85.8,401.1 89.2,401.1 92.7,402.1 96.1,403.8 99.5,412.7 102.9,424.6 106.3,434.9 109.7,448.5 113.1,463.0 116.5,463.0 118.9,461.8 122.3,460.5 125.7,461.3 129.2,463.0 132.6,465.6 136.0,468.1 139.4,469.0 142.8,468.7 146.2,465.6 149.6,457.1 153.0,446.8 156.5,435.7 159.9,430.6 161.7,426.7 164.9,429.7 166.7,430.6 170.1,427.2 173.5,423.8 176.9,420.9 180.3,422.1 183.7,417.8 187.2,411.8 190.6,416.1 194.0,420.4 196.5,422.6 200.1,420.9 203.8,416.1 206.1,409.3 208.7,403.3 211.1,399.0 214.5,398.2 217.9,398.7 221.3,399.9 224.7,400.4 228.1,401.6 230.5,403.3 233.9,405.9 238.2,407.6 242.4,407.9 246.7,406.7 251.0,402.8 256.1,402.4 259.5,401.6 262.1,403.3 264.6,407.6 267.2,415.2 269.7,424.6 272.3,438.3 275.7,455.3 278.3,457.1 280.8,457.9 283.4,460.5 286.5,463.9 289.4,461.8 292.8,457.1 296.2,449.4 298.8,441.7 302.2,431.5 306.4,417.8 310.7,417.5 313.3,422.9 315.8,429.7 319.2,441.7 322.7,456.2 326.1,463.9 331.2,463.5 335.5,461.3 339.7,456.2 343.1,446.8 346.5,435.7 348.1,431.5 351.5,424.3 355.7,422.6 360.0,419.5 365.1,415.8 369.4,414.0 372.8,418.7 376.2,427.2 380.5,440.0 386.1,448.5 390.7,441.7 394.1,427.2 397.5,411.0 401.0,399.9 404.4,397.7 406.9,399.0 410.3,401.6 415.5,403.8 420.6,406.2 425.7,407.9 430.0,408.9 435.1,414.4 438.5,408.4 441.1,403.3 446.2,400.7 450.5,398.2 454.7,399.4 459.0,400.4 460.5,401.1 463.9,409.3 467.3,421.2 470.7,434.9 475.0,447.7 479.3,436.6 482.7,434.0 486.1,431.1 489.5,419.9 493.8,417.5 497.2,416.1 500.1,413.5 502.3,422.9 504.9,445.1 508.3,450.2 511.7,457.1 515.1,463.9 519.4,464.7 525.3,469.0 530.5,465.6 535.6,462.2 540.7,460.8 545.0,460.8 548.4,459.1 551.8,456.2 555.2,451.9 558.6,441.7 562.0,434.0 565.5,429.7 569.0,426.7 573.3,428.4 577.6,426.3 581.8,421.2 586.1,413.5 589.5,407.9 594.6,407.9 598.0,407.1 600.6,408.4 603.2,417.8 606.6,429.7 610.0,438.3 614.8,446.8 617.7,439.1 619.4,435.7" fill="none" stroke="#ff0000" />
<line x1="677.5" y1="0" x2="677.5" y2="475" stroke="#000"/>
<rect x="678" y="312" width="7" height="1" fill="#000"/>
<text x="699.8" y="318" class="ax" textLength="19.86" lengthAdjust="spacing">155</text>
<rect x="678" y="300" width="3" height="1" fill="#000"/>
<rect x="678" y="288" width="7" height="1" fill="#000"/>
<text x="699.8" y="294" class="ax" textLength="19.86" lengthAdjust="spacing">156</text>
<rect x="678" y="276" width="3" height="1" fill="#000"/>
<rect x="678" y="264" width="7" height="1" fill="#000"/>
<text x="699.8" y="270" class="ax" textLength="19.86" lengthAdjust="spacing">157</text>
<rect x="678" y="252" width="3" height="1" fill="#000"/>
<rect x="678" y="240" width="7" height="1" fill="#000"/>
<text x="699.8" y="246" class="ax" textLength="19.86" lengthAdjust="spacing">158</text>
<rect x="678" y="228" width="3" height="1" fill="#000"/>
<rect x="678" y="216" width="7" height="1" fill="#000"/>
<text x="699.8" y="222" class="ax" textLength="19.86" lengthAdjust="spacing">159</text>
<rect x="678" y="205" width="3" height="1" fill="#000"/>
<rect x="678" y="193" width="7" height="1" fill="#000"/>
<text x="699.8" y="199" class="ax" textLength="19.86" lengthAdjust="spacing">160</text>
<rect x="678" y="181" width="3" height="1" fill="#000"/>
<rect x="678" y="170" width="7" height="1" fill="#000"/>
<text x="699.8" y="176" class="ax" textLength="19.86" lengthAdjust="spacing">161</text>
<rect x="678" y="158" width="3" height="1" fill="#000"/>
<rect x="678" y="146" width="7" height="1" fill="#000"/>
<text x="699.8" y="152" class="ax" textLength="19.86" lengthAdjust="spacing">162</text>
<rect x="678" y="135" width="3" height="1" fill="#000"/>
<rect x="678" y="123" width="7" height="1" fill="#000"/>
<text x="699.8" y="129" class="ax" textLength="19.86" lengthAdjust="spacing">163</text>
<rect x="678" y="112" width="3" height="1" fill="#000"/>
<rect x="678" y="100" width="7" height="1" fill="#000"/>
<text x="699.8" y="106" class="ax" textLength="19.86" lengthAdjust="spacing">164</text>
<rect x="678" y="89" width="3" height="1" fill="#000"/>
<rect x="678" y="78" width="7" height="1" fill="#000"/>
<text x="699.8" y="84" class="ax" textLength="19.86" lengthAdjust="spacing">165</text>
<rect x="678" y="66" width="3" height="1" fill="#000"/>
<rect x="678" y="55" width="7" height="1" fill="#000"/>
<text x="699.8" y="61" class="ax" textLength="19.86" lengthAdjust="spacing">166</text>
<rect x="678" y="44" width="3" height="1" fill="#000"/>
<rect x="678" y="32" width="7" height="1" fill="#000"/>
<text x="699.8" y="38" class="ax" textLength="19.86" lengthAdjust="spacing">167</text>
<rect x="678" y="21" width="3" height="1" fill="#000"/>
<rect x="678" y="10" width="7" height="1" fill="#000"/>
<text x="699.8" y="16" class="ax" textLength="19.86" lengthAdjust="spacing">168</text>
<rect x="678" y="388" width="3" height="1" fill="#000"/>
<rect x="678" y="386" width="3" height="1" fill="#000"/>
<rect x="678" y="383" width="3" height="1" fill="#000"/>
<rect x="678" y="380" width="7" height="1" fill="#000"/>
<rect x="678" y="377" width="3" height="1" fill="#000"/>
<rect x="678" y="374" width="3" height="1" fill="#000"/>
<rect x="678" y="372" width="3" height="1" fill="#000"/>
<rect x="678" y="369" width="3" height="1" fill="#000"/>
<rect x="678" y="366" width="7" height="1" fill="#000"/>
<rect x="678" y="363" width="3" height="1" fill="#000"/>
<rect x="678" y="360" width="3" height="1" fill="#000"/>
<rect x="678" y="358" width="3" height="1" fill="#000"/>
<rect x="678" y="355" width="3" height="1" fill="#000"/>
<rect x="678" y="352" width="7" height="1" fill="#000"/>
<rect x="678" y="349" width="3" height="1" fill="#000"/>
<rect x="678" y="346" width="3" height="1" fill="#000"/>
<rect x="678" y="344" width="3" height="1" fill="#000"/>
<rect x="678" y="341" width="3" height="1" fill="#000"/>
<rect x="678" y="338" width="7" height="1" fill="#000"/>
<rect x="678" y="335" width="3" height="1" fill="#000"/>
<rect x="678" y="332" width="3" height="1" fill="#000"/>
<rect x="678" y="330" width="3" height="1" fill="#000"/>
<rect x="678" y="327" width="3" height="1" fill="#000"/>
<rect x="678" y="324" width="7" height="1" fill="#000"/>
<text x="703.5" y="344.5" class="ax" textLength="16" lengthAdjust="spacing">0.5</text>
<text x="703.5" y="357.5" class="ax" textLength="16" lengthAdjust="spacing">0.0</text>
<text x="700.1" y="370.7" class="ax">-0.5</text>
<text x="700.1" y="384.8" class="ax">-1.0</text>
<rect x="678" y="471" width="7" height="1" fill="#000"/>
<rect x="678" y="463" width="3" height="1" fill="#000"/>
<rect x="678" y="455" width="3" height="1" fill="#000"/>
<rect x="678" y="448" width="3" height="1" fill="#000"/>
<rect x="678" y="440" width="3" height="1" fill="#000"/>
<rect x="678" y="432" width="7" height="1" fill="#000"/>
<rect x="678" y="424" width="3" height="1" fill="#000"/>
<rect x="678" y="416" width="3" height="1" fill="#000"/>
<rect x="678" y="409" width="3" height="1" fill="#000"/>
<rect x="678" y="401" width="3" height="1" fill="#000"/>
<rect x="678" y="393" width="7" height="1" fill="#000"/>
<text x="706.7" y="439" class="ax" textLength="13.55" lengthAdjust="spacing">50</text>
<line x1="0" y1="475.5" x2="677" y2="475.5" stroke="#000"/>
<line x1="0" y1="490.5" x2="677" y2="490.5" stroke="#000"/>
<g clip-path="url(#axclip)">
<rect x="-8" y="476" width="1" height="14" fill="#000"/>
<text x="-6.5" y="487" class="ax">30</text>
<rect x="17" y="476" width="1" height="14" fill="#000"/>
<text x="18.5" y="487" class="ax">6</text>
<rect x="42" y="476" width="1" height="14" fill="#000"/>
<text x="43.5" y="487" class="ax">13</text>
<rect x="67" y="476" width="1" height="14" fill="#000"/>
<text x="68.5" y="487" class="ax">20</text>
<rect x="91" y="476" width="1" height="14" fill="#000"/>
<text x="92.5" y="487" class="ax">27</text>
<rect x="116" y="476" width="1" height="14" fill="#000"/>
<text x="117.5" y="487" class="ax">6</text>
<rect x="141" y="476" width="1" height="14" fill="#000"/>
<text x="142.5" y="487" class="ax">13</text>
<rect x="166" y="476" width="1" height="14" fill="#000"/>
<text x="167.5" y="487" class="ax">20</text>
<rect x="191" y="476" width="1" height="14" fill="#000"/>
<text x="192.5" y="487" class="ax">27</text>
<rect x="216" y="476" width="1" height="14" fill="#000"/>
<text x="217.5" y="487" class="ax">3</text>
<rect x="241" y="476" width="1" height="14" fill="#000"/>
<text x="242.5" y="487" class="ax">10</text>
<rect x="260" y="476" width="1" height="14" fill="#000"/>
<text x="261.5" y="487" class="ax">18</text>
<rect x="280" y="476" width="1" height="14" fill="#000"/>
<text x="281.5" y="487" class="ax">24</text>
<rect x="305" y="476" width="1" height="14" fill="#000"/>
<text x="306.5" y="487" class="ax">2</text>
<rect x="325" y="476" width="1" height="14" fill="#000"/>
<text x="326.5" y="487" class="ax">8</text>
<rect x="350" y="476" width="1" height="14" fill="#000"/>
<text x="351.5" y="487" class="ax">15</text>
<rect x="375" y="476" width="1" height="14" fill="#000"/>
<text x="376.5" y="487" class="ax">22</text>
<rect x="400" y="476" width="1" height="14" fill="#000"/>
<text x="401.5" y="487" class="ax">29</text>
<rect x="425" y="476" width="1" height="14" fill="#000"/>
<text x="426.5" y="487" class="ax">5</text>
<rect x="449" y="476" width="1" height="14" fill="#000"/>
<text x="450.5" y="487" class="ax">12</text>
<rect x="474" y="476" width="1" height="14" fill="#000"/>
<text x="475.5" y="487" class="ax">19</text>
<rect x="499" y="476" width="1" height="14" fill="#000"/>
<text x="500.5" y="487" class="ax">26</text>
<rect x="524" y="476" width="1" height="14" fill="#000"/>
<text x="525.5" y="487" class="ax">3</text>
<rect x="549" y="476" width="1" height="14" fill="#000"/>
<text x="550.5" y="487" class="ax">10</text>
<rect x="574" y="476" width="1" height="14" fill="#000"/>
<text x="575.5" y="487" class="ax">17</text>
<rect x="599" y="476" width="1" height="14" fill="#000"/>
<text x="600.5" y="487" class="ax">24</text>
<rect x="624" y="476" width="1" height="14" fill="#000"/>
<text x="625.5" y="487" class="ax">31</text>
<rect x="648" y="476" width="1" height="14" fill="#000"/>
<text x="649.5" y="487" class="ax">7</text>
<rect x="673" y="476" width="1" height="14" fill="#000"/>
<text x="674.5" y="487" class="ax">14</text>
<rect x="2" y="476" width="1" height="28" fill="#000"/>
<text x="2.7" y="501.5" class="ax" textLength="46.3" lengthAdjust="spacing">February</text>
<rect x="101" y="476" width="1" height="28" fill="#000"/>
<text x="102" y="501.5" class="ax">March</text>
<rect x="216" y="476" width="1" height="28" fill="#000"/>
<text x="217" y="501.5" class="ax">April</text>
<rect x="305" y="476" width="1" height="28" fill="#000"/>
<text x="306" y="501.5" class="ax">May</text>
<rect x="415" y="476" width="1" height="28" fill="#000"/>
<text x="416" y="501.5" class="ax">June</text>
<rect x="524" y="476" width="1" height="28" fill="#000"/>
<text x="525" y="501.5" class="ax">July</text>
<rect x="629" y="476" width="1" height="28" fill="#000"/>
<text x="630" y="501.5" class="ax">August</text>
</g>
<rect x="300" y="4" width="109" height="26" fill="#fff"/>
<text x="302.6" y="25.9" class="title" textLength="103.2" lengthAdjust="spacingAndGlyphs">Bund Future</text>
<text x="8.7" y="24.2" class="wm" textLength="123.4" lengthAdjust="spacing">www.chartbuero.de</text>
<text x="548" y="307" class="hp" textLength="106.9" lengthAdjust="spacing">Hoppenstedt Charts</text>
<text x="259" y="381.7" class="lbl" textLength="176.1" lengthAdjust="spacing">MACD (12/26/9) mit Histogramm</text>
<rect x="158" y="448" width="101" height="19" fill="#fff"/>
<text x="159.8" y="462.5" class="lbl" textLength="96" lengthAdjust="spacing">Stochastik (5/3/3)</text>
</svg>
</body></html>
